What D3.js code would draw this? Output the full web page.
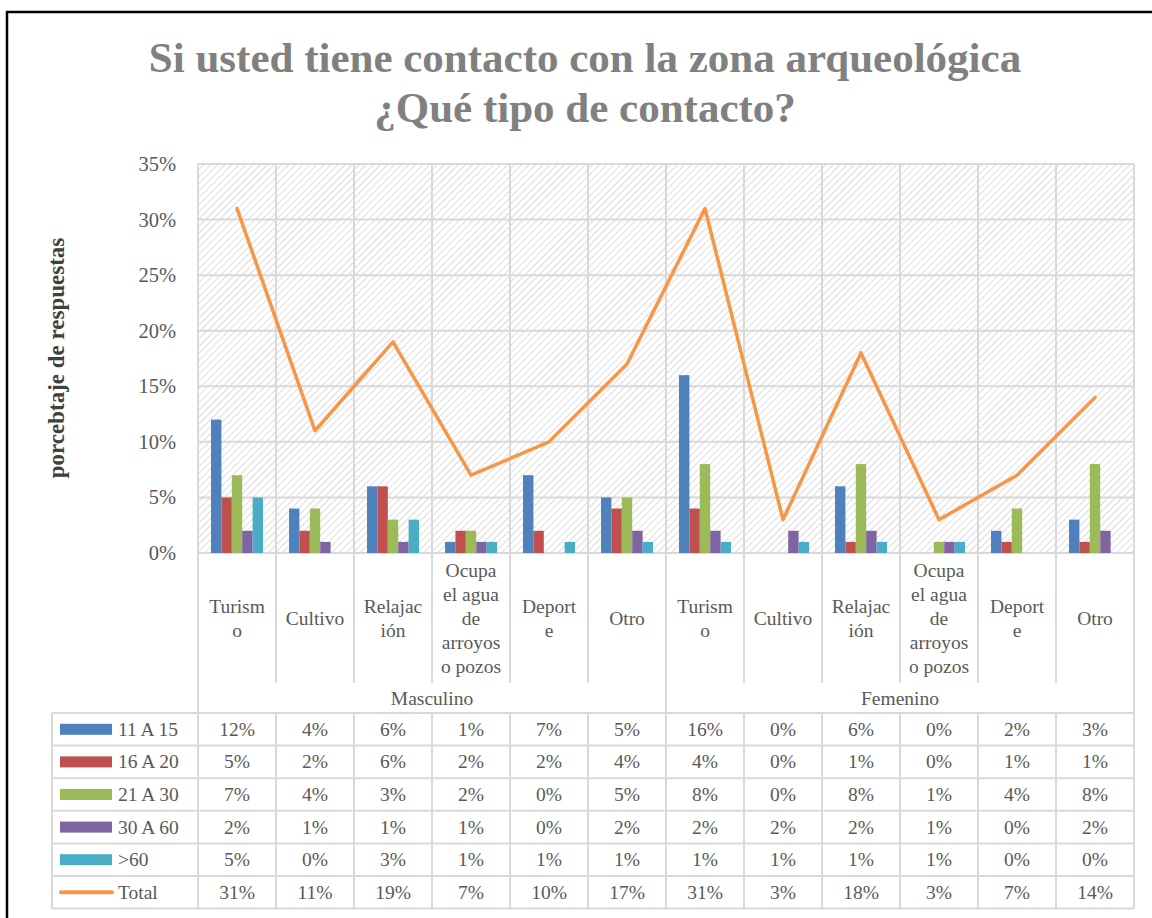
<!DOCTYPE html>
<html><head><meta charset="utf-8">
<script src="https://cdn.jsdelivr.net/npm/d3@7"></script>
<style>body{margin:0;background:#fff}svg{display:block}text{font-family:"Liberation Serif","Times New Roman",serif}</style>
</head><body><svg id="c" width="1152" height="918"></svg>
<script>
const categories = [
  ["Turism","o"],["Cultivo"],["Relajac","ión"],["Ocupa","el agua","de","arroyos","o pozos"],["Deport","e"],["Otro"],
  ["Turism","o"],["Cultivo"],["Relajac","ión"],["Ocupa","el agua","de","arroyos","o pozos"],["Deport","e"],["Otro"]
];
const groups = ["Masculino","Femenino"];
const seriesNames = ["11 A 15","16 A 20","21 A 30","30 A 60",">60"];
const s11a15 = [12,4,6,1,7,5,16,0,6,0,2,3];
const s16a20 = [5,2,6,2,2,4,4,0,1,0,1,1];
const s21a30 = [7,4,3,2,0,5,8,0,8,1,4,8];
const s30a60 = [2,1,1,1,0,2,2,2,2,1,0,2];
const s60 = [5,0,3,1,1,1,1,1,1,1,0,0];
const total = [31,11,19,7,10,17,31,3,18,3,7,14];
const yTicks = [0,5,10,15,20,25,30,35];
const colors = ["#4F81BD","#C0504D","#9BBB59","#8064A2","#4BACC6"];
const lineColor = "#F79646";
const barSeries = [s11a15,s16a20,s21a30,s30a60,s60];

const svg = d3.select("#c");
const L = 198, R = 1134, T = 164, B = 553;
const grid = "#d9d9d9", txt = "#595959";
const FF = "Liberation Serif";

svg.append("rect").attr("x",7).attr("y",12).attr("width",1160).attr("height",920)
  .attr("fill","#fff").attr("stroke","#000").attr("stroke-width",2.5);

const defs = svg.append("defs");
const pat = defs.append("pattern").attr("id","hatch").attr("patternUnits","userSpaceOnUse")
  .attr("width",5).attr("height",5).attr("patternTransform","rotate(45)");
pat.append("rect").attr("width",5).attr("height",5).attr("fill","#fff");
pat.append("line").attr("x1",0).attr("y1",0).attr("x2",0).attr("y2",5).attr("stroke","#d4d4d4").attr("stroke-width",1.6);

const x = d3.scaleBand().domain(d3.range(12)).range([L,R]);
const y = d3.scaleLinear().domain([0,35]).range([B,T]);
const xs = d3.scaleBand().domain(d3.range(5)).range([0,52]);

const title = svg.append("text").attr("text-anchor","middle").attr("fill","#808080")
  .attr("font-family",FF).attr("font-weight","bold").attr("font-size",43);
title.append("tspan").attr("x",585).attr("y",72).text("Si usted tiene contacto con la zona arqueológica");
title.append("tspan").attr("x",585).attr("y",122).text("¿Qué tipo de contacto?");

svg.append("rect").attr("x",L).attr("y",T).attr("width",R-L).attr("height",B-T).attr("fill","url(#hatch)");

svg.append("g").selectAll("line").data(yTicks).join("line")
  .attr("x1",L).attr("x2",R).attr("y1",d=>y(d)).attr("y2",d=>y(d))
  .attr("stroke",grid).attr("stroke-width",2);
svg.append("g").selectAll("line").data(d3.range(13)).join("line")
  .attr("x1",d=>L+d*x.step()).attr("x2",d=>L+d*x.step())
  .attr("y1",T).attr("y2",d=> (d===0||d===6||d===12)?713:683)
  .attr("stroke",grid).attr("stroke-width",2);

const yAxis = d3.axisLeft(y).tickValues(yTicks).tickFormat(d=>d+"%").tickSize(0).tickPadding(0);
const ya = svg.append("g").attr("transform",`translate(176,0)`).call(yAxis);
ya.select(".domain").remove();
ya.attr("font-family",FF);
ya.selectAll("text").attr("font-size",20.5).attr("fill",txt).attr("font-family",FF);

svg.append("text").attr("transform","translate(64,358) rotate(-90)").attr("text-anchor","middle")
  .attr("font-family",FF).attr("font-size",23).attr("font-weight","bold").attr("fill","#404040").text("porcebtaje de respuestas");

barSeries.forEach((s,si)=>{
  svg.append("g").selectAll("rect").data(s).join("rect")
    .attr("x",(d,i)=>x(i)+13+xs(si)).attr("width",xs.bandwidth())
    .attr("y",d=>y(d)).attr("height",d=>y(0)-y(d)).attr("fill",colors[si]);
});

svg.append("path").datum(total).attr("fill","none").attr("stroke",lineColor).attr("stroke-width",3.5)
  .attr("stroke-linejoin","round").attr("stroke-linecap","round")
  .attr("d",d3.line().x((d,i)=>x(i)+x.bandwidth()/2).y(d=>y(d)));

categories.forEach((c,i)=>{
  const t = svg.append("text").attr("text-anchor","middle").attr("font-family",FF).attr("font-size",19.5).attr("fill",txt);
  const n = c.length;
  c.forEach((s,j)=>{
    t.append("tspan").attr("x",x(i)+x.bandwidth()/2).attr("y",618+7+(j-(n-1)/2)*24).text(s);
  });
});
groups.forEach((g,i)=>{
  svg.append("text").attr("x",L+(i*6+3)*x.step()).attr("y",705).attr("text-anchor","middle")
    .attr("font-family",FF).attr("font-size",19.5).attr("fill",txt).text(g);
});

const rowTop = 713, rowH = 32.6, tL = 52;
const rows = seriesNames.map((n,i)=>({name:n,vals:barSeries[i],color:colors[i],line:false}))
  .concat([{name:"Total",vals:total,color:lineColor,line:true}]);
for(let r=0;r<=6;r++){
  svg.append("line").attr("x1",tL).attr("x2",R).attr("y1",rowTop+r*rowH).attr("y2",rowTop+r*rowH)
    .attr("stroke",grid).attr("stroke-width",2);
}
[tL].concat(d3.range(13).map(d=>L+d*x.step())).forEach(xx=>{
  svg.append("line").attr("x1",xx).attr("x2",xx).attr("y1",rowTop).attr("y2",rowTop+6*rowH)
    .attr("stroke",grid).attr("stroke-width",2);
});
rows.forEach((r,ri)=>{
  const cy = rowTop+ri*rowH+rowH/2;
  if(r.line){
    svg.append("line").attr("x1",61).attr("x2",112).attr("y1",cy).attr("y2",cy)
      .attr("stroke",r.color).attr("stroke-width",4).attr("stroke-linecap","round");
  } else {
    svg.append("rect").attr("x",60).attr("y",cy-5.5).attr("width",52).attr("height",11).attr("fill",r.color);
  }
  svg.append("text").attr("x",118).attr("y",cy+6.5).attr("font-family",FF).attr("font-size",19.5).attr("fill",txt).text(r.name);
  svg.append("g").selectAll("text").data(r.vals).join("text")
    .attr("x",(d,i)=>x(i)+x.bandwidth()/2).attr("y",cy+6.5).attr("text-anchor","middle")
    .attr("font-family",FF).attr("font-size",19.5).attr("fill",txt).text(d=>d+"%");
});
</script></body></html>
